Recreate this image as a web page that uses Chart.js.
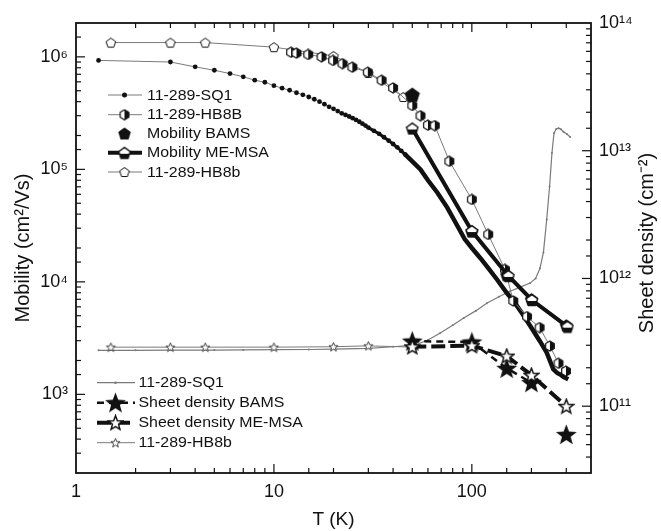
<!DOCTYPE html>
<html><head><meta charset="utf-8">
<script src="https://cdn.jsdelivr.net/npm/chart.js@4/dist/chart.umd.min.js"></script>
<style>html,body{margin:0;padding:0;background:#fff;}canvas{display:block;}</style>
</head><body>
<canvas id="c" width="661" height="531"></canvas>
<script>
// ---------------- DATA ----------------
// Mobility (cm^2/Vs) vs T (K)
const sq1MobT = [1.3,3,4,5,6,7,8,9,10,11,12,13,14,15,16,17,18,19,20,21,22,23,24,25,26,27,28,29,30,32,34,36,38,40,42,44,46,50,55,60,67,75,81,92,100,110,120,134,150,162,180,197,220,239,258,270,280,290,307];
const sq1Mob  = [9.3e5,9.0e5,8.15e5,7.6e5,7.1e5,6.65e5,6.2e5,5.95e5,5.55e5,5.27e5,5.05e5,4.8e5,4.6e5,4.4e5,4.2e5,4.0e5,3.8e5,3.6e5,3.45e5,3.3e5,3.15e5,3.05e5,2.95e5,2.85e5,2.75e5,2.65e5,2.55e5,2.45e5,2.35e5,2.2e5,2.07e5,1.93e5,1.8e5,1.68e5,1.57e5,1.46e5,1.36e5,1.18e5,1.0e5,8.0e4,6.2e4,4.6e4,3.6e4,2.4e4,2.0e4,1.64e4,1.35e4,1.05e4,8.0e3,6.8e3,5.2e3,4.07e3,3.0e3,2.35e3,1.67e3,1.55e3,1.5e3,1.43e3,1.36e3];
const hb8BMobT = [12.2,13,14.9,17.4,19.9,22.2,24.9,29.8,35,40,50,55,60,65,77,100,121,147,162,190,220,248,274,299];
const hb8BMob  = [1.1e6,1.08e6,1.05e6,1.0e6,9.3e5,8.7e5,8.1e5,7.3e5,6.2e5,5.3e5,3.7e5,3.0e5,2.47e5,2.45e5,1.18e5,5.4e4,2.64e4,1.29e4,6.77e3,4.91e3,3.92e3,2.69e3,1.89e3,1.61e3];
const hb8bMobT = [1.5,3,4.5,10,20,30,45];
const hb8bMob  = [1.34e6,1.34e6,1.34e6,1.22e6,1.02e6,7.2e5,4.4e5];
const bamsMobT = [50,100,150,200,300];
const bamsMob  = [4.6e5,2.8e4,1.15e4,7.0e3,4.1e3];
const msaMobT  = [50,100,153,201,304];
const msaMob   = [2.31e5,2.83e4,1.13e4,6.9e3,4.0e3];
// Sheet density (cm^-2) vs T (K)
const sq1DenT = [1.3,2,3,5,7,10,15,20,30,40,52,60,69,80,91,105,119,137,156,177,197,210,221,230,239,247,254,260,267,274,282,290,302,314];
const sq1Den  = [2.74e11,2.74e11,2.75e11,2.75e11,2.76e11,2.77e11,2.78e11,2.8e11,2.84e11,2.92e11,3.02e11,3.3e11,3.73e11,4.3e11,4.9e11,5.6e11,6.4e11,7.2e11,7.95e11,8.6e11,9.2e11,1.0e12,1.2e12,1.6e12,2.9e12,5.25e12,9.6e12,1.37e13,1.48e13,1.5e13,1.47e13,1.41e13,1.35e13,1.28e13];
const hb8bDenT = [1.5,3,4.5,10,20,30,50];
const hb8bDen  = [2.9e11,2.9e11,2.9e11,2.9e11,2.92e11,2.97e11,2.9e11];
const bamsDenT = [50,100,150,200,300];
const bamsDen  = [3.23e11,3.18e11,1.98e11,1.53e11,6.0e10];
const msaDenT  = [50,100,150,200,300];
const msaDen   = [2.92e11,2.98e11,2.47e11,1.75e11,1.0e11];
// axis tick labels (powers of ten)
const xTickLabels = [1,10,100];
const yLeftExps = [3,4,5,6];
const yRightExps = [11,12,13,14];

// ---------------- STYLE HELPERS ----------------
const FONT = '"Liberation Sans", Arial, Helvetica, sans-serif';
Chart.defaults.font.family = FONT;
Chart.defaults.color = '#111';
const GRAY = '#7a7a7a', BLK = '#111';
const SUP = {'0':'⁰','1':'¹','2':'²','3':'³','4':'⁴','5':'⁵','6':'⁶','7':'⁷','8':'⁸','9':'⁹','-':'⁻'};
const sup = s => String(s).split('').map(ch => SUP[ch] || ch).join('');

function mk(size, draw){const c=document.createElement('canvas');c.width=size;c.height=size;const g=c.getContext('2d');draw(g,size/2,size/2);return c;}
function poly(g,n,cx,cy,r,rot){g.beginPath();for(let i=0;i<n;i++){const a=rot+i*2*Math.PI/n;const x=cx+r*Math.cos(a),y=cy+r*Math.sin(a);i?g.lineTo(x,y):g.moveTo(x,y);}g.closePath();}
function star(g,cx,cy,R,r){g.beginPath();for(let i=0;i<10;i++){const a=-Math.PI/2+i*Math.PI/5;const rr=i%2?r:R;const x=cx+rr*Math.cos(a),y=cy+rr*Math.sin(a);i?g.lineTo(x,y):g.moveTo(x,y);}g.closePath();}
const halfHex = mk(12,(g,cx,cy)=>{poly(g,6,cx,cy,5,-Math.PI/2);g.fillStyle='#fff';g.fill();g.save();g.clip();g.fillStyle=BLK;g.fillRect(cx,0,12,12);g.restore();g.lineWidth=1.2;g.strokeStyle=BLK;g.stroke();});
const openPent = mk(12,(g,cx,cy)=>{poly(g,5,cx,cy+0.5,5,-Math.PI/2);g.fillStyle='#fff';g.fill();g.lineWidth=1;g.strokeStyle=BLK;g.stroke();});
const bigPent = mk(18,(g,cx,cy)=>{poly(g,5,cx,cy+0.8,8,-Math.PI/2);g.fillStyle=BLK;g.fill();});
const midPent = mk(15,(g,cx,cy)=>{poly(g,5,cx,cy+0.6,6.8,-Math.PI/2);g.fillStyle=BLK;g.fill();});
const halfPent = mk(14,(g,cx,cy)=>{poly(g,5,cx,cy+0.6,6,-Math.PI/2);g.fillStyle='#fff';g.fill();g.save();g.clip();g.fillStyle=BLK;g.fillRect(0,cy+1,14,14);g.restore();g.lineWidth=1.4;g.strokeStyle=BLK;g.stroke();});
const bigStar = mk(23,(g,cx,cy)=>{star(g,cx,cy+0.8,11,4.6);g.fillStyle=BLK;g.fill();});
const openStar = mk(17,(g,cx,cy)=>{star(g,cx,cy+0.6,7.5,3.2);g.fillStyle='#fff';g.fill();g.lineWidth=1.5;g.strokeStyle=BLK;g.stroke();});
const smallStar = mk(11,(g,cx,cy)=>{star(g,cx,cy+0.4,4.8,2);g.fillStyle='#fff';g.fill();g.lineWidth=0.9;g.strokeStyle='#333';g.stroke();});

const pts = (xs,ys)=>xs.map((x,i)=>({x:x,y:ys[i]}));

const datasets = [
 {key:'msaMob',label:'Mobility ME-MSA',yAxisID:'y',data:pts(msaMobT,msaMob),borderColor:BLK,borderWidth:4,pointStyle:halfPent,pointRadius:6},
 {key:'bamsMob',label:'Mobility BAMS',yAxisID:'y',data:pts(bamsMobT,bamsMob),showLine:false,borderColor:BLK,pointStyle:c=>c.dataIndex===0?bigPent:midPent,pointRadius:7},
 {key:'msaDen',label:'Sheet density ME-MSA',yAxisID:'y2',data:pts(msaDenT,msaDen),borderColor:BLK,borderWidth:4,borderDash:[14,5],pointStyle:openStar,pointRadius:7},
 {key:'bamsDen',label:'Sheet density BAMS',yAxisID:'y2',data:pts(bamsDenT,bamsDen),borderColor:BLK,borderWidth:2.5,borderDash:[7,5],pointStyle:bigStar,pointRadius:10,
   segment:{borderColor:c=>c.p1DataIndex===4?'rgba(0,0,0,0)':BLK}},
 {key:'hb8BMob',label:'11-289-HB8B',yAxisID:'y',data:pts(hb8BMobT,hb8BMob),borderColor:GRAY,borderWidth:1,pointStyle:halfHex,pointRadius:5},
 {key:'hb8bMob',label:'11-289-HB8b',yAxisID:'y',data:pts(hb8bMobT,hb8bMob),borderColor:GRAY,borderWidth:1,pointStyle:openPent,pointRadius:5},
 {key:'sq1Mob',label:'11-289-SQ1',yAxisID:'y',data:pts(sq1MobT,sq1Mob),borderColor:GRAY,borderWidth:1,pointStyle:'circle',
   pointRadius:c=>(c.raw&&c.raw.x<=46)?2.4:0,pointBackgroundColor:BLK,pointBorderColor:BLK,pointBorderWidth:0,
   segment:{borderColor:c=>c.p0.parsed.x>=30?BLK:GRAY,borderWidth:c=>c.p0.parsed.x>=46?4.5:(c.p0.parsed.x>=30?3:1)}},
 {key:'hb8bDen',label:'11-289-HB8b',yAxisID:'y2',data:pts(hb8bDenT,hb8bDen),borderColor:GRAY,borderWidth:1,pointStyle:smallStar,pointRadius:5},
 {key:'sq1Den',label:'11-289-SQ1',yAxisID:'y2',data:pts(sq1DenT,sq1Den),borderColor:GRAY,borderWidth:1.2,pointStyle:'circle',pointRadius:1,pointBackgroundColor:GRAY,pointBorderWidth:0}
];
datasets.forEach(d=>{d.fill=false;d.tension=0;d.pointHoverRadius=d.pointRadius;});

const isPow10 = v => {const e=Math.log10(v);return Math.abs(e-Math.round(e))<1e-6;};

// legends (layout positions only)
const legend1 = {keys:['sq1Mob','hb8BMob','bamsMob','msaMob','hb8bMob'], ys:[95,114.7,133.5,152.8,172], x0:108, x1:142, mx:124.5, tx:147};
const legend2 = {keys:['sq1Den','bamsDen','msaDen','hb8bDen'], ys:[382.7,402.7,422.7,442.7], x0:97, x1:135, mx:115.5, tx:138.5};

const framePlugin = {
 id:'frame',
 afterDatasetsDraw(chart){
  const {ctx,chartArea:a,scales} = chart;
  ctx.save();
  ctx.strokeStyle=BLK;ctx.lineWidth=1.2;
  const ln=(x1,y1,x2,y2)=>{ctx.beginPath();ctx.moveTo(x1,y1);ctx.lineTo(x2,y2);ctx.stroke();};
  scales.x.ticks.forEach(t=>{const p=scales.x.getPixelForValue(t.value);if(p<a.left+1||p>a.right-1)return;const L=isPow10(t.value)?9:5;ln(p,a.bottom,p,a.bottom-L);ln(p,a.top,p,a.top+L);});
  scales.y.ticks.forEach(t=>{const p=scales.y.getPixelForValue(t.value);if(p<a.top+1||p>a.bottom-1)return;const L=isPow10(t.value)?9:5;ln(a.left,p,a.left+L,p);});
  scales.y2.ticks.forEach(t=>{const p=scales.y2.getPixelForValue(t.value);if(p<a.top+1||p>a.bottom-1)return;const L=isPow10(t.value)?9:5;ln(a.right,p,a.right-L,p);});
  ctx.lineWidth=1.8;ctx.strokeRect(a.left,a.top,a.right-a.left,a.bottom-a.top);
  ctx.restore();
 },
 afterDraw(chart){
  const ctx=chart.ctx;
  const drawLegend=(L)=>{
   L.keys.forEach((k,i)=>{
    const di=chart.data.datasets.findIndex(d=>d.key===k);const d=chart.data.datasets[di];const y=L.ys[i];
    ctx.save();
    if(d.showLine!==false){ctx.strokeStyle=d.borderColor;ctx.lineWidth=(k==='sq1Mob')?1:d.borderWidth;ctx.setLineDash(d.borderDash||[]);
      ctx.beginPath();ctx.moveTo(L.x0,y);ctx.lineTo(L.x1,y);ctx.stroke();ctx.setLineDash([]);}
    let st=d.pointStyle; if(typeof st==='function') st=bigPent;
    if(st==='circle'){ctx.fillStyle=d.pointBackgroundColor;ctx.beginPath();ctx.arc(L.mx,y,k==='sq1Mob'?2.5:1.3,0,2*Math.PI);ctx.fill();}
    else {let w=st.width; if(k==='bamsMob'){w=15;} ctx.drawImage(st,L.mx-w/2,y-w/2,w,w);}
    ctx.fillStyle='#111';ctx.font='15px '+FONT;ctx.textBaseline='middle';ctx.textAlign='left';
    ctx.translate(L.tx,y);ctx.scale(1.06,1);ctx.fillText(d.label,0,0.5);
    ctx.restore();
   });
  };
  drawLegend(legend1);drawLegend(legend2);
  // right axis title, reading bottom-to-top like the left one
  ctx.save();ctx.translate(647,243);ctx.rotate(-Math.PI/2);ctx.fillStyle='#111';ctx.font='20px '+FONT;ctx.textAlign='center';ctx.textBaseline='middle';
  ctx.fillText('Sheet density (cm'+sup('-2')+')',0,0);ctx.restore();
 }
};

new Chart(document.getElementById('c'),{
 type:'line',
 data:{datasets:datasets},
 plugins:[framePlugin],
 options:{
  responsive:false,devicePixelRatio:1,animation:false,
  layout:{padding:{top:23,left:0,right:0,bottom:0}},
  plugins:{legend:{display:false},tooltip:{enabled:false}},
  scales:{
   x:{type:'logarithmic',position:'bottom',min:1,max:400,
      grid:{display:false,drawTicks:false},border:{display:false},
      ticks:{autoSkip:false,maxRotation:0,padding:8,font:{size:18},callback:v=>xTickLabels.includes(v)?String(v):''},
      title:{display:true,text:'T (K)',font:{size:19},padding:{top:0,bottom:0}},
      afterFit:s=>{s.height=58;}},
   y:{type:'logarithmic',position:'left',min:200,max:2e6,
      grid:{display:false,drawTicks:false},border:{display:false},
      ticks:{autoSkip:false,padding:8,font:{size:18},callback:v=>{const e=Math.round(Math.log10(v));return (isPow10(v)&&yLeftExps.includes(e))?'10'+sup(e):'';}},
      title:{display:true,text:'Mobility (cm²/Vs)',font:{size:20},padding:{top:11,bottom:0}},
      afterFit:s=>{s.width=76;}},
   y2:{type:'logarithmic',position:'right',min:3e10,max:1e14,
      grid:{display:false,drawTicks:false},border:{display:false},
      ticks:{autoSkip:false,padding:8,font:{size:18},callback:v=>{const e=Math.round(Math.log10(v));return (isPow10(v)&&yRightExps.includes(e))?'10'+sup(e):'';}},
      afterFit:s=>{s.width=70;}}
  }
 }
});
</script>
</body></html>
